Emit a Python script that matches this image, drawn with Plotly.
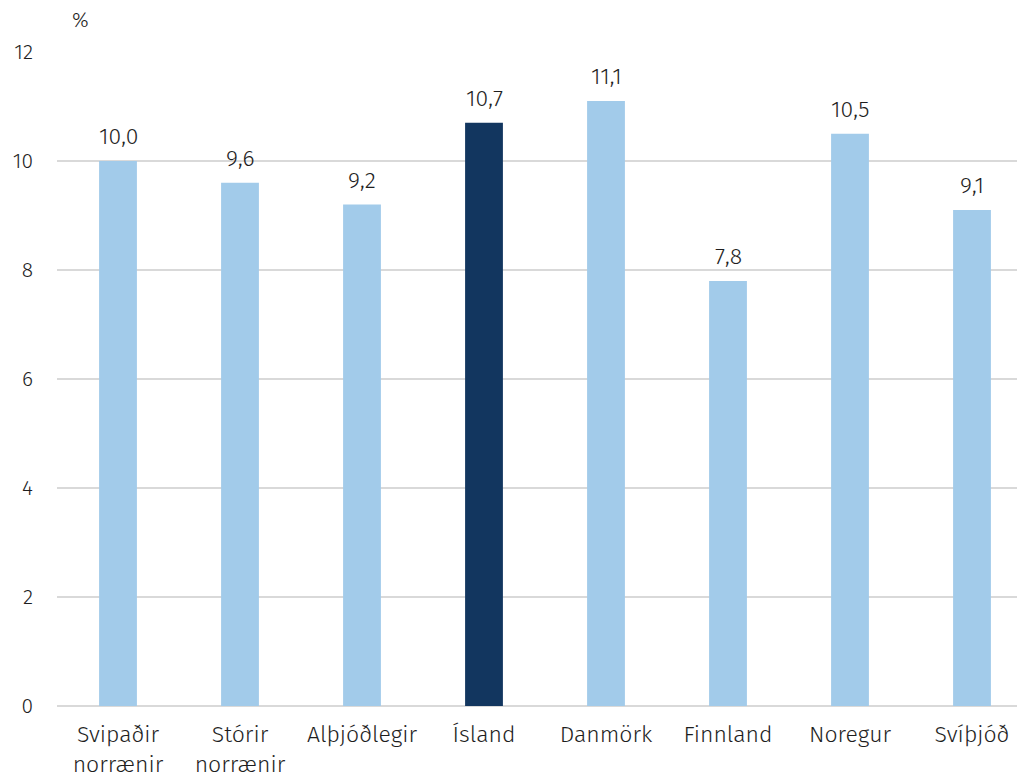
import plotly.graph_objects as go

categories = ["Svipaðir<br>norrænir", "Stórir<br>norrænir", "Alþjóðlegir", "Ísland",
              "Danmörk", "Finnland", "Noregur", "Svíþjóð"]
values = [10.0, 9.6, 9.2, 10.7, 11.1, 7.8, 10.5, 9.1]
highlight = "Ísland"
light = "#A2CBEA"
dark = "#12365F"
colors = [dark if c == highlight else light for c in categories]

font_family = "Fira Sans Light, Fira Sans, Noto Sans, sans-serif"
txt = "#1E1E1E"
fnt = dict(size=23, color=txt, family=font_family, weight=300)
tick_fnt = dict(size=21, color=txt, family=font_family, weight=300)

fig = go.Figure(go.Bar(
    x=categories, y=values, marker_color=colors, marker_line_width=0,
    hoverinfo="skip",
))

labels = [dict(x=c, y=v, text=f"{v:.1f}".replace(".", ","), xref="x", yref="y",
               yanchor="bottom", yshift=9, showarrow=False, font=fnt)
          for c, v in zip(categories, values)]

fig.update_layout(
    width=1025, height=773,
    margin=dict(l=49, r=0, t=44, b=75),
    paper_bgcolor="white", plot_bgcolor="white",
    bargap=0.69,
    showlegend=False,
    font=fnt,
    xaxis=dict(showgrid=False, showline=False, ticks="", tickfont=fnt,
               ticklabelstandoff=12),
    yaxis=dict(range=[0, 12], dtick=2, showgrid=True, gridcolor="#D9D9D9", gridwidth=1.5,
               zeroline=True, zerolinecolor="#D9D9D9", zerolinewidth=2,
               tickfont=tick_fnt, ticklabelstandoff=23),
    annotations=labels + [dict(text="%", xref="paper", yref="paper", x=0.024, y=1.0,
                               yshift=32, xanchor="center", yanchor="middle",
                               showarrow=False, font=tick_fnt)],
)

fig.write_html("out.html")
